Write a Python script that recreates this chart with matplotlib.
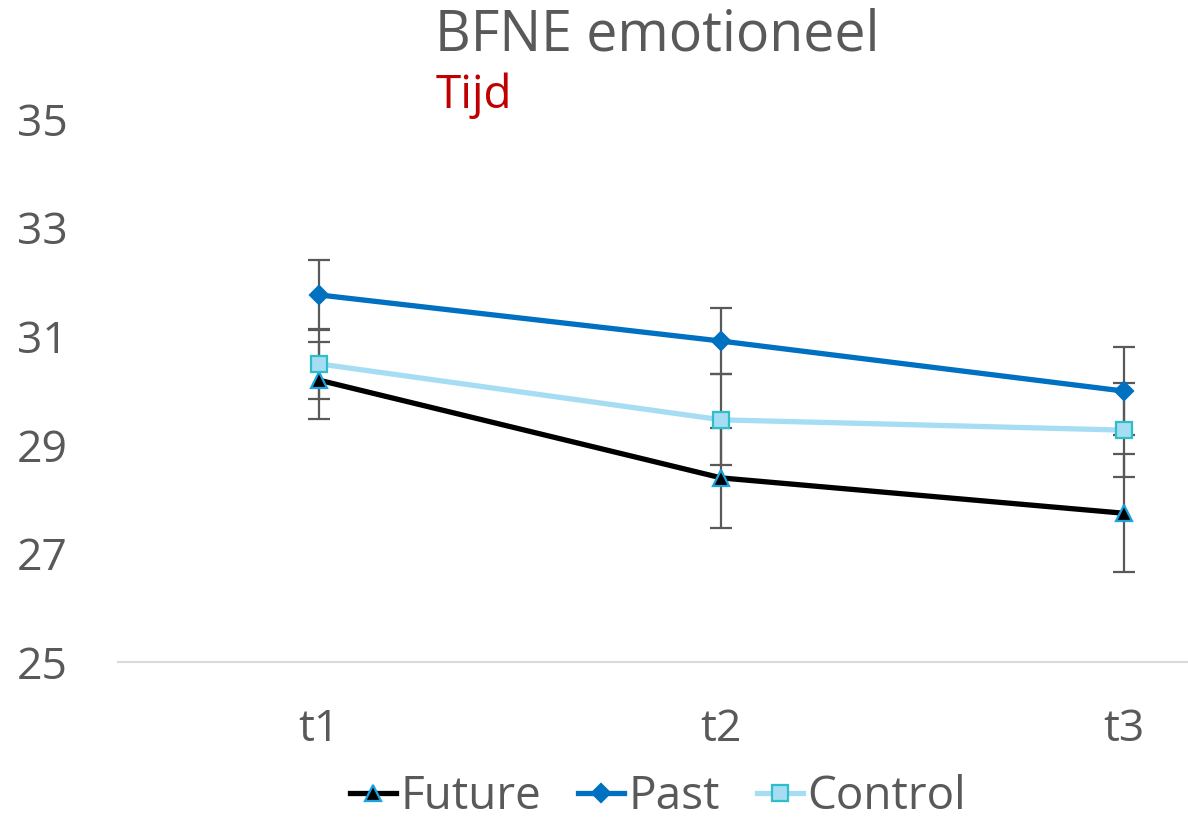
import numpy as np
import matplotlib.pyplot as plt

plt.rcParams['font.family'] = ['Open Sans', 'DejaVu Sans']

# data
timepoints = ['t1', 't2', 't3']
future = [30.19, 28.39, 27.74]
past = [31.76, 30.91, 29.99]
control = [30.49, 29.46, 29.27]
future_err = [0.71, 0.92, 1.09]
past_err = [0.64, 0.61, 0.81]
control_err = [0.65, 0.84, 0.87]

grey = '#595959'
x = np.arange(len(timepoints))

fig = plt.figure(figsize=(11.88, 8.18), dpi=100)
ax = fig.add_axes([118 / 1188, 1 - 662 / 818, 1 - 118 / 1188, (662 - 119) / 818])

series = [
    ('Future', future, future_err, 'black', '^', 'black', '#1AA3E0', 11),
    ('Past', past, past_err, '#0070C0', 'D', '#0070C0', '#0070C0', 9),
    ('Control', control, control_err, '#A6DDF2', 's', '#A6DDF2', '#2BBFCB', 11),
]

for name, vals, err, col, mk, mfc, mec, ms in series:
    ax.errorbar(x, vals, yerr=err, fmt='none', ecolor=grey, elinewidth=1.6,
                capsize=8, capthick=1.6, zorder=2)

for name, vals, err, col, mk, mfc, mec, ms in series:
    ax.plot(x, vals, color=col, lw=3.8, marker=mk, markersize=ms,
            markerfacecolor=mfc, markeredgecolor=mec, markeredgewidth=1.6,
            label=name, zorder=3)

ax.set_xlim(-0.5, 2.16)
ax.set_ylim(25, 35)
ax.set_yticks([25, 27, 29, 31, 33, 35])
ax.set_xticks(x)
ax.set_xticklabels(timepoints)
ax.tick_params(axis='both', length=0, labelsize=32, labelcolor=grey)
ax.tick_params(axis='y', pad=36)
ax.tick_params(axis='x', pad=33)

for s in ['top', 'right', 'left']:
    ax.spines[s].set_visible(False)
ax.spines['bottom'].set_color('#D9D9D9')
ax.spines['bottom'].set_linewidth(1.5)

fig.text(657 / 1188, 1 - 36 / 818, 'BFNE emotioneel', ha='center', va='center',
         fontsize=40, color=grey)
fig.text(436 / 1188, 1 - 96 / 818, 'Tijd', ha='left', va='center',
         fontsize=33, color='#C00000')

fig.legend(loc='center', bbox_to_anchor=(658 / 1188, 1 - 797 / 818), ncol=3,
           frameon=False, fontsize=33, labelcolor=grey, handlelength=1.0,
           handletextpad=0.1, columnspacing=0.8, borderpad=0)

fig.savefig('out.png', dpi=100)
